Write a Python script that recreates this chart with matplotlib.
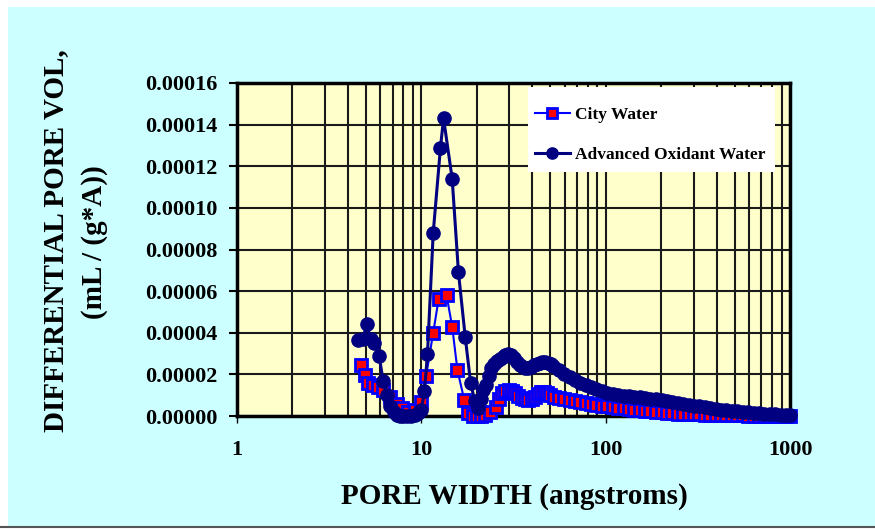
import matplotlib
matplotlib.use("Agg")
import matplotlib.pyplot as plt
from matplotlib.patches import Rectangle
from matplotlib.lines import Line2D
from matplotlib.ticker import FixedLocator, NullFormatter, LogLocator

# ---- data (pore width in angstroms, differential pore volume in mL/(g*A)) ----
city_x = [4.7, 4.97, 5.15, 5.5, 5.8, 6.2, 6.8, 7.4, 7.9, 8.5, 9.2, 9.9, 10.6,
          11.6, 12.4, 13.7, 14.7, 15.7, 17.1, 18.0, 19.0, 20.0, 21.0, 22.2,
          23.5, 25.3, 26.5, 27.5, 28.6, 29.8, 31.0, 32.3, 33.6, 35.0, 36.5,
          38.0, 39.6, 41.2, 42.8, 44.5, 46.3, 48.2, 50.2, 52.2, 55.6, 59.5,
          63.7, 68.0, 73.0, 78.0, 83.5, 89.0, 95.5, 102.0, 109.0, 117.0,
          125.0, 134.0, 143.0, 153.0, 164.0, 175.0, 188.0, 201.0, 215.0,
          230.0, 246.0, 263.0, 282.0, 301.0, 322.0, 345.0, 369.0, 395.0,
          423.0, 452.0, 484.0, 518.0, 554.0, 593.0, 634.0, 679.0, 726.0,
          777.0, 831.0, 890.0, 952.0, 1000.0]
city_y = [2.45e-5, 1.97e-5, 1.6e-5, 1.5e-5, 1.4e-5, 1.25e-5, 0.9e-5, 0.6e-5,
          0.4e-5, 0.2e-5, 0.3e-5, 0.67e-5, 1.9e-5, 4.0e-5, 5.6e-5, 5.8e-5,
          4.3e-5, 2.2e-5, 0.77e-5, 0.14e-5, 0.0, 0.0, 0.0, 0.05e-5, 0.2e-5,
          0.43e-5, 0.8e-5, 1.1e-5, 1.2e-5, 1.25e-5, 1.2e-5, 1.1e-5, 0.95e-5,
          0.87e-5, 0.8e-5, 0.77e-5, 0.8e-5, 0.9e-5, 1.05e-5, 1.15e-5,
          1.15e-5, 1.1e-5, 1.0e-5, 0.9e-5, 0.85e-5, 0.8e-5, 0.77e-5, 0.72e-5,
          0.67e-5, 0.62e-5, 0.57e-5, 0.53e-5, 0.5e-5, 0.46e-5, 0.43e-5,
          0.4e-5, 0.37e-5, 0.34e-5, 0.31e-5, 0.28e-5, 0.25e-5, 0.23e-5,
          0.2e-5, 0.18e-5, 0.16e-5, 0.14e-5, 0.12e-5, 0.11e-5, 0.1e-5,
          0.09e-5, 0.08e-5, 0.07e-5, 0.06e-5, 0.05e-5, 0.05e-5, 0.04e-5,
          0.04e-5, 0.03e-5, 0.03e-5, 0.02e-5, 0.02e-5, 0.02e-5, 0.01e-5,
          0.01e-5, 0.01e-5, 0.0, 0.0, 0.0]

aow_x = [4.55, 4.8, 5.07, 5.3, 5.55, 5.9, 6.2, 6.5, 6.8, 7.1, 7.4, 7.7, 8.0,
         8.4, 8.8, 9.2, 9.6, 10.0, 10.4, 10.8, 11.6, 12.7, 13.2, 14.7, 15.9,
         17.3, 18.5, 19.5, 20.4, 21.0, 21.7, 22.4, 23.2, 24.0, 24.8, 25.7,
         26.6, 27.6, 28.6, 29.6, 30.7, 31.8, 33.0, 34.2, 35.4, 36.7, 38.0,
         39.4, 40.8, 42.3, 43.8, 45.4, 47.0, 48.7, 50.4, 52.0, 55.6, 59.5,
         63.7, 68.0, 73.0, 78.0, 83.5, 89.0, 95.5, 102.0, 109.0, 117.0,
         125.0, 134.0, 143.0, 153.0, 164.0, 175.0, 188.0, 201.0, 215.0,
         230.0, 246.0, 263.0, 282.0, 301.0, 322.0, 345.0, 369.0, 395.0,
         423.0, 452.0, 484.0, 518.0, 554.0, 593.0, 634.0, 679.0, 726.0,
         777.0, 831.0, 890.0, 952.0, 1000.0]
aow_y = [3.65e-5, 3.7e-5, 4.4e-5, 3.7e-5, 3.5e-5, 2.9e-5, 1.7e-5, 1.0e-5,
         0.5e-5, 0.2e-5, 0.05e-5, 0.0, 0.0, 0.0, 0.0, 0.05e-5, 0.15e-5,
         0.3e-5, 1.2e-5, 3.0e-5, 8.8e-5, 12.9e-5, 14.3e-5, 11.4e-5, 6.9e-5,
         3.8e-5, 1.6e-5, 0.7e-5, 0.4e-5, 0.8e-5, 1.25e-5, 1.5e-5, 1.9e-5,
         2.3e-5, 2.5e-5, 2.65e-5, 2.75e-5, 2.85e-5, 2.95e-5, 3.0e-5,
         2.95e-5, 2.8e-5, 2.6e-5, 2.45e-5, 2.35e-5, 2.3e-5, 2.3e-5, 2.35e-5,
         2.45e-5, 2.5e-5, 2.55e-5, 2.6e-5, 2.6e-5, 2.55e-5, 2.5e-5, 2.4e-5,
         2.2e-5, 2.0e-5, 1.88e-5, 1.75e-5, 1.6e-5, 1.5e-5, 1.4e-5, 1.3e-5,
         1.2e-5, 1.12e-5, 1.06e-5, 1.02e-5, 0.98e-5, 0.94e-5, 0.92e-5,
         0.9e-5, 0.87e-5, 0.84e-5, 0.8e-5, 0.75e-5, 0.7e-5, 0.66e-5,
         0.62e-5, 0.58e-5, 0.54e-5, 0.5e-5, 0.47e-5, 0.43e-5, 0.39e-5,
         0.35e-5, 0.31e-5, 0.27e-5, 0.24e-5, 0.22e-5, 0.2e-5, 0.17e-5,
         0.15e-5, 0.13e-5, 0.11e-5, 0.09e-5, 0.08e-5, 0.06e-5, 0.05e-5,
         0.04e-5]

y_ticks = [0.0, 0.00002, 0.00004, 0.00006, 0.00008, 0.00010, 0.00012, 0.00014, 0.00016]
x_ticks = [1, 10, 100, 1000]
x_tick_labels = ["1", "10", "100", "1000"]

SERIF = ["Liberation Serif", "DejaVu Serif"]
plt.rcParams["font.family"] = SERIF
plt.rcParams["font.weight"] = "bold"

fig = plt.figure(figsize=(8.75, 5.29), dpi=100)
fig.patch.set_facecolor("white")

# light cyan chart area with a grey line at the bottom
fig.patches.append(Rectangle((8 / 875, 2 / 529), 1 - 8 / 875, 520 / 529,
                             transform=fig.transFigure, facecolor="#CCFFFF",
                             edgecolor="none", zorder=-10))
fig.lines.append(Line2D([0, 1], [2 / 529, 2 / 529], transform=fig.transFigure,
                        color="#555555", lw=1.5, zorder=-9))

ax = fig.add_axes([237 / 875, 1 - 416 / 529, 553 / 875, 333 / 529])
ax.set_facecolor("#FFFFCC")
ax.set_xscale("log")
ax.set_xlim(1, 1000)
ax.set_ylim(0, 0.00016)

ax.plot(city_x, city_y, "-s", color="#0000FF", lw=1.5, markersize=8,
        markerfacecolor="#FF0000", markeredgecolor="#0000FF", markeredgewidth=2,
        label="City Water", clip_on=False, zorder=3)
ax.plot(aow_x, aow_y, "-o", color="#000080", lw=2.2, markersize=9.5,
        markerfacecolor="#000080", markeredgecolor="#000080",
        label="Advanced Oxidant Water", clip_on=False, zorder=4)

ax.xaxis.set_major_locator(FixedLocator(x_ticks))
ax.set_xticklabels(x_tick_labels)
ax.xaxis.set_minor_locator(LogLocator(base=10, subs=range(2, 10)))
ax.xaxis.set_minor_formatter(NullFormatter())
ax.set_yticks(y_ticks)
ax.set_yticklabels([f"{v:.5f}" for v in y_ticks])

ax.grid(True, which="both", axis="x", color="#1a1a1a", lw=1.5)
ax.grid(True, which="major", axis="y", color="#1a1a1a", lw=1.5)
ax.set_axisbelow(True)

ax.tick_params(axis="x", which="major", direction="out", length=5, width=1,
               pad=12, labelsize=16)
ax.tick_params(axis="x", which="minor", length=0)
ax.tick_params(axis="y", direction="out", length=6, width=1.5, pad=8,
               labelsize=16)
for lab in ax.get_xticklabels() + ax.get_yticklabels():
    lab.set_fontweight("bold")

for side in ["left", "top", "bottom", "right"]:
    ax.spines[side].set_linewidth(2.5)
    ax.spines[side].set_color("black")

# white legend box (drawn separately: wide vertical, narrow horizontal padding)
ax.add_patch(Rectangle((0.526, 0.733), 0.447, 0.255, transform=ax.transAxes,
                       facecolor="white", edgecolor="none", zorder=8))
leg = ax.legend(loc="upper left", bbox_to_anchor=(0.539, 0.928),
                frameon=False, borderpad=0, labelspacing=1.35,
                handlelength=2.0, handletextpad=0.3, borderaxespad=0,
                markerscale=0.85,
                prop={"family": SERIF, "weight": "bold", "size": 12.5})
leg.set_zorder(10)

fig.text(514 / 875, 1 - 497 / 529, "PORE WIDTH (angstroms)", ha="center",
         va="center", fontsize=21, fontweight="bold")
fig.text(56 / 875, 1 - 241 / 529, "DIFFERENTIAL PORE VOL,", ha="center",
         va="center", rotation=90, fontsize=21, fontweight="bold")
fig.text(94 / 875, 1 - 242 / 529, "(mL / (g*A))", ha="center",
         va="center", rotation=90, fontsize=21, fontweight="bold")

fig.savefig("out.png", dpi=100)
